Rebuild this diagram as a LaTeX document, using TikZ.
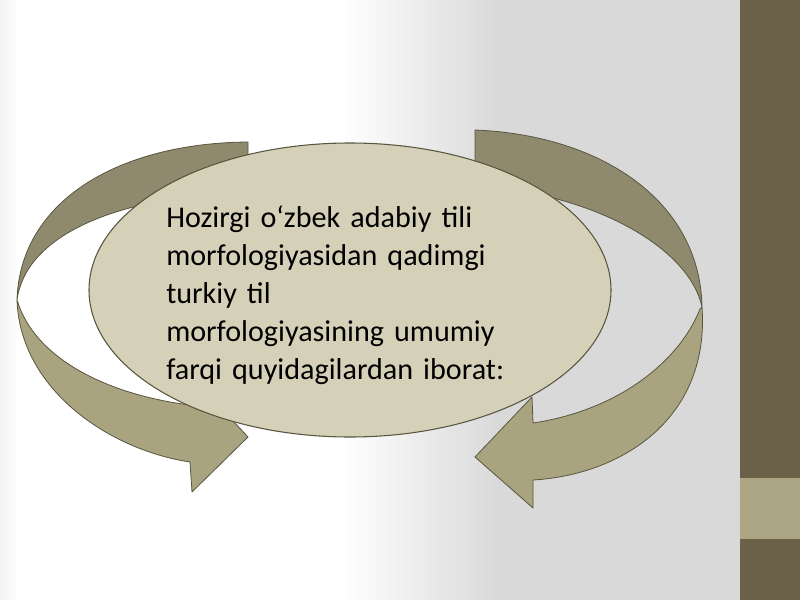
\documentclass[tikz,border=0pt]{standalone}
\usepackage{fontspec}
\setmainfont{Carlito}
\usetikzlibrary{shapes.geometric}
\definecolor{bandDark}{HTML}{8F8A6D}
\definecolor{bandLight}{HTML}{A9A47F}
\definecolor{ovalFill}{HTML}{D4D1B8}
\definecolor{edgeLine}{HTML}{59553F}
\definecolor{stripDark}{HTML}{6B6148}
\definecolor{stripLight}{HTML}{ACA685}
\definecolor{paperGray}{HTML}{D9D9D9}
\begin{document}
\begin{tikzpicture}[x=0.75pt,y=-0.75pt,
        band/.style={draw=edgeLine,line width=0.6pt,line join=round},
        oval/.style={ellipse,draw=edgeLine,line width=0.8pt,fill=ovalFill,inner sep=0pt},
        label/.style={anchor=base west,align=left,inner sep=0pt,text width=380pt,
            font=\fontsize{22.6}{28.5}\selectfont}]
    \useasboundingbox (0,0) rectangle (800,600);
    % background
    \fill [white] (0,0) rectangle (340,600);
    \shade [left color=black!5, right color=white] (0,0) rectangle (18,600);
    \shade [left color=white, right color=paperGray] (340,0) rectangle (500,600);
    \fill [paperGray] (500,0) rectangle (740,600);
    \fill [stripDark] (740,0) rectangle (800,600);
    \fill [stripLight] (740,478) rectangle (800,539);
    % left arrow
    \draw [band, fill=bandDark] (248,142) .. controls (120,143) and (20,200) .. (17,300)
        .. controls (25,240) and (105,197) .. (248,192) -- cycle;
    \draw [band, fill=bandLight] (17,300) .. controls (20,390) and (110,450) .. (190,462)
        -- (192,492) -- (248,437) -- (190,375) -- (190,405)
        .. controls (110,395) and (35,360) .. (17,300) -- cycle;
    % right arrow
    \draw [band, fill=bandDark] (475,130) .. controls (600,135) and (700,200) .. (702,307)
        .. controls (690,250) and (600,195) .. (475,185) -- cycle;
    \draw [band, fill=bandLight] (702,307) .. controls (710,420) and (620,475) .. (533,480)
        -- (533,508) -- (475,457) -- (532,397) -- (533,423)
        .. controls (620,410) and (680,360) .. (700,309) -- cycle;
    % oval with text
    \node [oval, minimum width=391.5pt, minimum height=220.5pt] (oval) at (350,290) {};
    \node [label] (txt) at (166,227) {Hozirgi o‘zbek adabiy tili\\
        morfologiyasidan qadimgi\\
        turkiy til\\
        morfologiyasining umumiy\\
        farqi quyidagilardan iborat:};
\end{tikzpicture}
\end{document}
